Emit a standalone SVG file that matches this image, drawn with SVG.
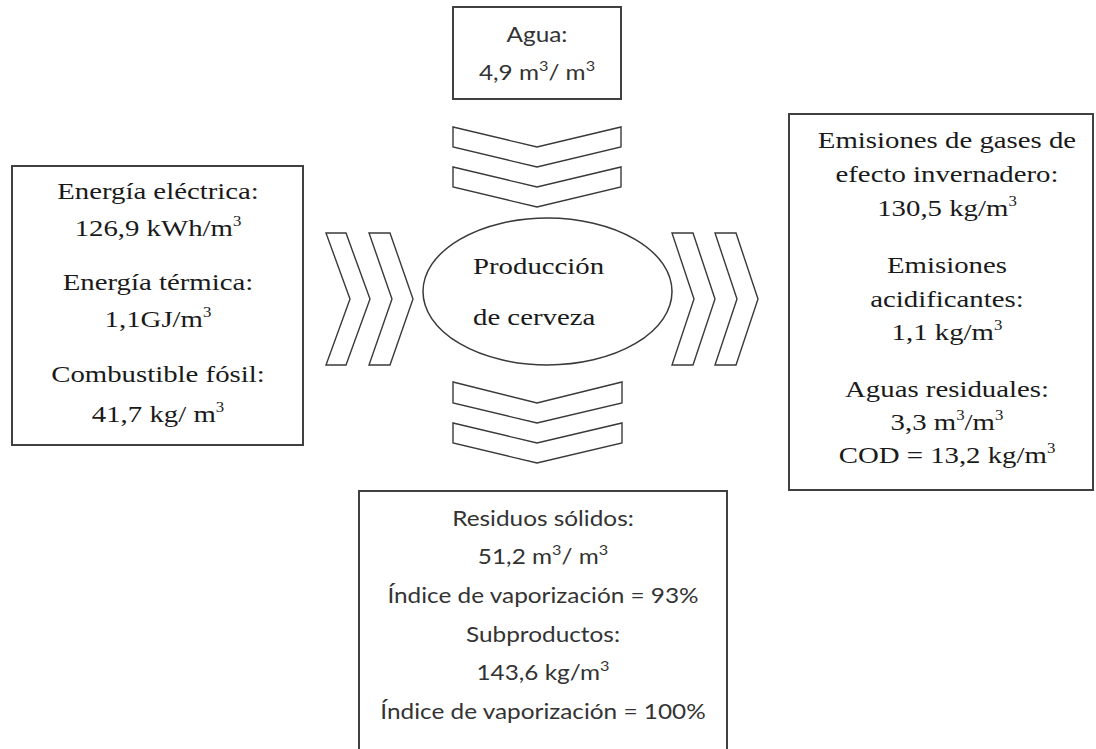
<svg xmlns="http://www.w3.org/2000/svg" width="1096" height="749" viewBox="0 0 1096 749">
<style>
.box{fill:#fff;stroke:#404040;stroke-width:2}
.chev{fill:#fff;stroke:#3a3a3a;stroke-width:1.4;stroke-linejoin:miter}
.mid{text-anchor:middle}
.sup{font-size:14px}
</style>
<rect width="1096" height="749" fill="#fff"/>

<g id="connectors">
  <polygon class="chev" points="453,127 537,147 621,127 621,147 537,167 453,147"/>
  <polygon class="chev" points="453,167 537,187 621,167 621,187 537,207 453,187"/>
  <polygon class="chev" points="453,382 537,403 622,382 622,403 537,423 453,403"/>
  <polygon class="chev" points="453,423 537,443 622,423 622,443 537,463 453,443"/>
  <polygon class="chev" points="326,233 346,233 370,299 346,365 326,365 350,299"/>
  <polygon class="chev" points="369,233 390,233 413,299 390,365 369,365 392,299"/>
  <polygon class="chev" points="672,233 693,233 715,299 693,365 672,365 694,299"/>
  <polygon class="chev" points="715,233 736,233 758,299 736,365 715,365 737,299"/>
</g>

<g id="agua">
  <rect class="box" x="453" y="7" width="168" height="92"/>
  <g transform="translate(537 0) scale(1.16 1)" font-family="Lato, 'Open Sans', sans-serif" font-size="21" fill="#333" class="mid">
    <text x="0" y="42">Agua:</text>
    <text x="0" y="80">4,9 m<tspan class="sup" dy="-9">3</tspan><tspan dy="9">/ m</tspan><tspan class="sup" dy="-9">3</tspan></text>
  </g>
</g>

<g id="entradas">
  <rect class="box" x="12" y="166" width="291" height="279"/>
  <g transform="translate(158 0) scale(1.2 1)" font-family="'Liberation Serif', 'DejaVu Serif', serif" font-size="24" fill="#1a1a1a" class="mid">
    <text x="0" y="199">Energía eléctrica:</text>
    <text x="0" y="236">126,9 kWh/m<tspan class="sup" dy="-10">3</tspan></text>
    <text x="0" y="290">Energía térmica:</text>
    <text x="0" y="327">1,1GJ/m<tspan class="sup" dy="-10">3</tspan></text>
    <text x="0" y="382">Combustible fósil:</text>
    <text x="0" y="422">41,7 kg/ m<tspan class="sup" dy="-10">3</tspan></text>
  </g>
</g>

<g id="produccion">
  <ellipse cx="547.5" cy="291.5" rx="124.5" ry="73.5" fill="#fff" stroke="#3a3a3a" stroke-width="1.5"/>
  <g transform="translate(473 0) scale(1.2 1)" font-family="'Liberation Serif', 'DejaVu Serif', serif" font-size="24" fill="#1a1a1a">
    <text x="0" y="274">Producción</text>
    <text x="0" y="325">de cerveza</text>
  </g>
</g>

<g id="emisiones">
  <rect class="box" x="789" y="114" width="304" height="376"/>
  <g transform="translate(947 0) scale(1.2 1)" font-family="'Liberation Serif', 'DejaVu Serif', serif" font-size="24" fill="#1a1a1a" class="mid">
    <text x="0" y="148">Emisiones de gases de</text>
    <text x="0" y="182">efecto invernadero:</text>
    <text x="0" y="216">130,5 kg/m<tspan class="sup" dy="-10">3</tspan></text>
    <text x="0" y="273">Emisiones</text>
    <text x="0" y="307">acidificantes:</text>
    <text x="0" y="340">1,1 kg/m<tspan class="sup" dy="-10">3</tspan></text>
    <text x="0" y="397">Aguas residuales:</text>
    <text x="0" y="430">3,3 m<tspan class="sup" dy="-10">3</tspan><tspan dy="10">/m</tspan><tspan class="sup" dy="-10">3</tspan></text>
    <text x="0" y="463">COD = 13,2 kg/m<tspan class="sup" dy="-10">3</tspan></text>
  </g>
</g>

<g id="residuos">
  <path class="box" d="M359,752 V491 H727 V752"/>
  <g transform="translate(543 0) scale(1.16 1)" font-family="Lato, 'Open Sans', sans-serif" font-size="21" fill="#333" class="mid">
    <text x="0" y="526">Residuos sólidos:</text>
    <text x="0" y="564">51,2 m<tspan class="sup" dy="-9">3</tspan><tspan dy="9">/ m</tspan><tspan class="sup" dy="-9">3</tspan></text>
    <text x="0" y="603">Índice de vaporización = 93%</text>
    <text x="0" y="642">Subproductos:</text>
    <text x="0" y="680">143,6 kg/m<tspan class="sup" dy="-9">3</tspan></text>
    <text x="0" y="719">Índice de vaporización = 100%</text>
  </g>
</g>
</svg>
